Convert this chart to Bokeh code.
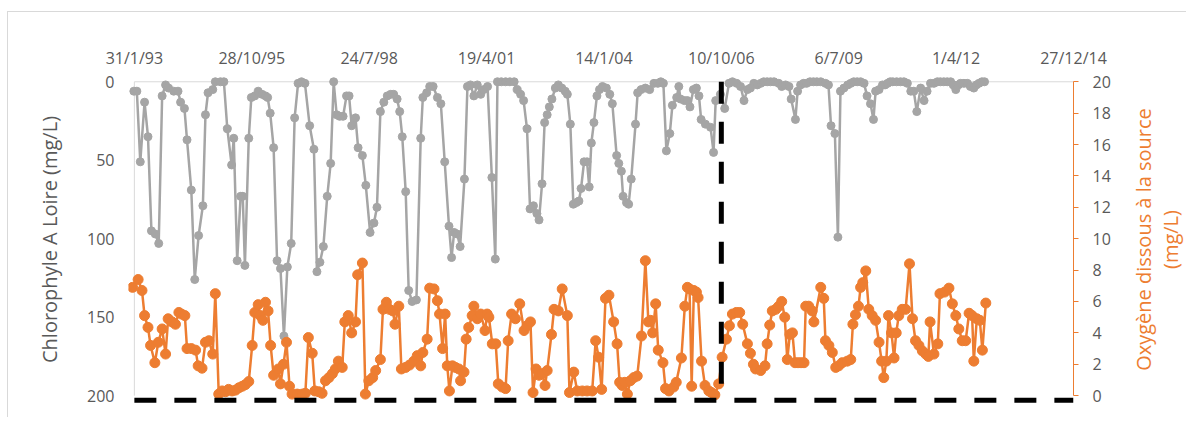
from datetime import datetime

from bokeh.embed import file_html
from bokeh.layouts import row
from bokeh.models import FixedTicker, LinearAxis, Range1d
from bokeh.plotting import figure
from bokeh.resources import INLINE

# ---------------- data ----------------
# top axis tick labels (dates, d/m/yy)
x_tick_labels = ["31/1/93", "28/10/95", "24/7/98", "19/4/01", "14/1/04",
                 "10/10/06", "6/7/09", "1/4/12", "27/12/14"]
chl_ticks = [0, 50, 100, 150, 200]
o2_ticks = [0, 2, 4, 6, 8, 10, 12, 14, 16, 18, 20]

# Chlorophyle A Loire (mg/L) : sampling time (decimal year) and value
chl_year = [
    1993.07, 1993.14, 1993.22, 1993.32, 1993.40, 1993.48, 1993.57, 1993.65, 1993.73, 1993.81,
    1993.88, 1994.00, 1994.10, 1994.16, 1994.25, 1994.31, 1994.41, 1994.49, 1994.58, 1994.68,
    1994.74, 1994.80, 1994.91, 1994.97, 1995.09, 1995.17, 1995.25, 1995.35, 1995.40, 1995.48,
    1995.56, 1995.61, 1995.66, 1995.75, 1995.81, 1995.89, 1995.97, 1996.06, 1996.14, 1996.19,
    1996.25, 1996.33, 1996.41, 1996.49, 1996.57, 1996.65, 1996.74, 1996.82, 1996.90, 1996.98,
    1997.06, 1997.17, 1997.27, 1997.34, 1997.41, 1997.49, 1997.58, 1997.66, 1997.73, 1997.80,
    1997.87, 1997.95, 1998.03, 1998.09, 1998.15, 1998.24, 1998.30, 1998.40, 1998.48, 1998.58,
    1998.67, 1998.74, 1998.82, 1998.90, 1998.98, 1999.06, 1999.13, 1999.21, 1999.27, 1999.33,
    1999.41, 1999.48, 1999.56, 1999.66, 1999.76, 1999.81, 1999.90, 1999.97, 2000.05, 2000.15,
    2000.23, 2000.32, 2000.42, 2000.48, 2000.54, 2000.61, 2000.68, 2000.78, 2000.85, 2000.92,
    2001.00, 2001.08, 2001.16, 2001.23, 2001.32, 2001.42, 2001.50, 2001.55, 2001.64, 2001.74,
    2001.84, 2001.94, 2002.01, 2002.09, 2002.16, 2002.24, 2002.31, 2002.39, 2002.47, 2002.52,
    2002.59, 2002.65, 2002.71, 2002.76, 2002.82, 2002.90, 2002.97, 2003.05, 2003.13, 2003.18,
    2003.25, 2003.32, 2003.39, 2003.45, 2003.50, 2003.57, 2003.64, 2003.69, 2003.74, 2003.80,
    2003.87, 2003.93, 2004.00, 2004.09, 2004.17, 2004.23, 2004.33, 2004.38, 2004.44, 2004.48,
    2004.56, 2004.61, 2004.67, 2004.77, 2004.82, 2004.90, 2005.00, 2005.10, 2005.20, 2005.29,
    2005.36, 2005.42, 2005.49, 2005.57, 2005.63, 2005.73, 2005.78, 2005.82, 2005.91, 2005.98,
    2006.04, 2006.12, 2006.19, 2006.25, 2006.30, 2006.40, 2006.52, 2006.59, 2006.64, 2006.75,
    2006.85, 2006.95, 2007.03, 2007.13, 2007.22, 2007.30, 2007.38, 2007.45, 2007.53, 2007.61,
    2007.69, 2007.76, 2007.84, 2007.92, 2008.00, 2008.11, 2008.18, 2008.27, 2008.35, 2008.40,
    2008.50, 2008.55, 2008.62, 2008.69, 2008.76, 2008.84, 2008.92, 2009.00, 2009.09, 2009.20,
    2009.27, 2009.33, 2009.42, 2009.49, 2009.55, 2009.63, 2009.72, 2009.79, 2009.86, 2009.94,
    2010.02, 2010.10, 2010.17, 2010.25, 2010.32, 2010.37, 2010.45, 2010.53, 2010.59, 2010.65,
    2010.71, 2010.77, 2010.86, 2010.95, 2011.03, 2011.11, 2011.19, 2011.26, 2011.33, 2011.42,
    2011.50, 2011.57, 2011.65, 2011.73, 2011.81, 2011.88, 2011.96, 2012.04, 2012.12, 2012.18,
    2012.24, 2012.30, 2012.35, 2012.43, 2012.51, 2012.58, 2012.66, 2012.72, 2012.78, 2012.85,
    2012.91,
]
chl_value = [
    6, 6, 51, 13, 35, 95, 97, 103, 9, 2,
    4, 6, 6, 13, 17, 37, 69, 126, 98, 79,
    21, 7, 5, 0, 0, 0, 30, 53, 36, 114,
    73, 73, 117, 36, 10, 9, 6, 8, 9, 10,
    20, 42, 114, 119, 162, 118, 103, 23, 1, 0,
    1, 28, 43, 121, 115, 105, 73, 52, 0, 21,
    22, 22, 9, 9, 28, 23, 42, 47, 66, 96,
    90, 80, 19, 13, 9, 8, 8, 11, 19, 35,
    70, 133, 140, 139, 36, 10, 7, 3, 3, 10,
    14, 51, 92, 112, 96, 97, 105, 62, 3, 2,
    9, 2, 8, 5, 3, 61, 113, 0, 0, 0,
    0, 0, 5, 8, 12, 30, 81, 79, 84, 88,
    65, 26, 21, 16, 11, 4, 2, 4, 6, 8,
    27, 78, 77, 76, 68, 51, 51, 67, 39, 26,
    9, 5, 3, 4, 8, 14, 47, 52, 57, 73,
    77, 78, 62, 27, 7, 5, 4, 5, 1, 1,
    0, 1, 44, 33, 15, 10, 3, 11, 12, 12,
    16, 5, 4, 9, 24, 27, 29, 45, 12, 8,
    17, 1, 0, 1, 3, 12, 5, 4, 1, 2,
    1, 0, 0, 0, 0, 1, 3, 2, 3, 11,
    24, 6, 2, 1, 1, 0, 0, 0, 0, 1,
    2, 28, 33, 99, 6, 4, 2, 1, 0, 0,
    0, 1, 9, 14, 24, 6, 5, 2, 2, 1,
    0, 0, 0, 0, 0, 1, 6, 6, 19, 4,
    12, 6, 1, 1, 0, 0, 0, 0, 0, 2,
    5, 2, 1, 1, 1, 3, 4, 2, 1, 0,
    0,
]

# Oxygene dissous a la source (mg/L)
o2_year = [
    1993.04, 1993.17, 1993.26, 1993.32, 1993.40, 1993.46, 1993.56, 1993.64, 1993.73, 1993.81,
    1993.87, 1993.96, 1994.04, 1994.12, 1994.18, 1994.26, 1994.31, 1994.41, 1994.51, 1994.57,
    1994.66, 1994.74, 1994.82, 1994.91, 1994.97, 1995.05, 1995.13, 1995.21, 1995.28, 1995.36,
    1995.44, 1995.52, 1995.60, 1995.67, 1995.75, 1995.83, 1995.89, 1995.97, 1996.02, 1996.08,
    1996.14, 1996.20, 1996.26, 1996.33, 1996.44, 1996.49, 1996.56, 1996.63, 1996.70, 1996.76,
    1996.88, 1997.00, 1997.07, 1997.14, 1997.23, 1997.29, 1997.38, 1997.46, 1997.54, 1997.62,
    1997.70, 1997.77, 1997.84, 1997.93, 1997.99, 1998.07, 1998.15, 1998.24, 1998.29, 1998.40,
    1998.47, 1998.55, 1998.64, 1998.71, 1998.82, 1998.88, 1998.96, 1999.03, 1999.11, 1999.16,
    1999.25, 1999.31, 1999.41, 1999.50, 1999.60, 1999.68, 1999.76, 1999.81, 1999.91, 1999.97,
    2000.07, 2000.15, 2000.20, 2000.27, 2000.33, 2000.38, 2000.43, 2000.50, 2000.57, 2000.65,
    2000.69, 2000.77, 2000.82, 2000.88, 2000.96, 2001.00, 2001.08, 2001.16, 2001.26, 2001.31,
    2001.35, 2001.43, 2001.51, 2001.57, 2001.66, 2001.74, 2001.80, 2001.88, 2001.97, 2002.07,
    2002.17, 2002.24, 2002.32, 2002.38, 2002.45, 2002.52, 2002.59, 2002.66, 2002.71, 2002.81,
    2002.87, 2002.97, 2003.06, 2003.18, 2003.23, 2003.33, 2003.41, 2003.53, 2003.64, 2003.76,
    2003.84, 2003.91, 2003.98, 2004.07, 2004.15, 2004.26, 2004.34, 2004.40, 2004.46, 2004.52,
    2004.58, 2004.65, 2004.73, 2004.81, 2004.91, 2005.00, 2005.07, 2005.12, 2005.17, 2005.24,
    2005.30, 2005.41, 2005.47, 2005.55, 2005.66, 2005.72, 2005.84, 2005.92, 2005.98, 2006.03,
    2006.08, 2006.13, 2006.19, 2006.23, 2006.31, 2006.39, 2006.48, 2006.54, 2006.62, 2006.71,
    2006.79, 2006.89, 2006.96, 2007.03, 2007.12, 2007.20, 2007.27, 2007.38, 2007.45, 2007.52,
    2007.57, 2007.69, 2007.79, 2007.84, 2007.90, 2007.96, 2008.04, 2008.11, 2008.18, 2008.25,
    2008.31, 2008.37, 2008.43, 2008.49, 2008.56, 2008.63, 2008.70, 2008.74, 2008.81, 2008.89,
    2008.93, 2009.09, 2009.16, 2009.20, 2009.28, 2009.36, 2009.44, 2009.51, 2009.59, 2009.71,
    2009.79, 2009.84, 2009.90, 2009.97, 2010.02, 2010.07, 2010.14, 2010.21, 2010.29, 2010.37,
    2010.45, 2010.51, 2010.56, 2010.62, 2010.67, 2010.74, 2010.80, 2010.85, 2010.91, 2010.99,
    2011.07, 2011.16, 2011.23, 2011.30, 2011.38, 2011.46, 2011.54, 2011.60, 2011.64, 2011.73,
    2011.82, 2011.87, 2011.98, 2012.08, 2012.16, 2012.24, 2012.31, 2012.39, 2012.47, 2012.55,
    2012.62, 2012.66, 2012.73, 2012.80, 2012.86, 2012.94,
]
o2_value = [
    6.9, 7.4, 6.7, 5.1, 4.35, 3.2, 2.1, 3.4, 4.25, 2.65,
    4.9, 4.7, 4.55, 5.3, 5.2, 5.1, 3.0, 3.0, 2.9, 1.9,
    1.75, 3.4, 3.5, 2.65, 6.5, 0.1, 0.3, 0.25, 0.4, 0.3,
    0.35, 0.5, 0.6, 0.7, 0.9, 3.2, 5.3, 5.8, 5.1, 4.8,
    5.95, 5.4, 3.2, 1.3, 1.7, 0.75, 2.0, 3.4, 0.6, 0.1,
    0.1, 0.1, 0.15, 3.7, 2.7, 0.3, 0.25, 0.15, 0.95, 1.15,
    1.4, 1.7, 2.2, 1.8, 4.7, 5.1, 4.0, 4.7, 7.7, 8.45,
    0.1, 0.95, 1.15, 1.6, 2.3, 5.5, 5.95, 5.5, 5.4, 4.55,
    5.7, 1.7, 1.8, 1.95, 2.2, 2.55, 1.9, 2.75, 3.6, 6.85,
    6.8, 6.05, 5.2, 3.0, 5.2, 1.9, 0.3, 1.9, 1.8, 1.7,
    0.95, 1.5, 3.6, 4.35, 5.1, 5.7, 4.9, 5.2, 4.15, 5.2,
    5.0, 3.3, 3.3, 0.75, 0.55, 0.45, 3.5, 5.2, 4.9, 5.85,
    4.15, 4.45, 4.7, 0.2, 1.7, 1.3, 1.4, 0.65, 1.6, 3.9,
    5.5, 5.4, 6.8, 5.1, 0.2, 1.5, 0.3, 0.3, 0.3, 0.3,
    3.5, 2.45, 0.4, 6.2, 6.4, 4.7, 3.3, 0.85, 0.65, 0.85,
    0.1, 0.95, 1.15, 1.25, 3.8, 8.6, 4.7, 4.8, 4.0, 5.85,
    2.9, 2.1, 0.45, 0.3, 0.55, 0.85, 2.4, 5.7, 6.9, 6.8,
    0.6, 6.7, 6.6, 6.25, 2.2, 0.65, 0.3, 0.2, 0.05, 0.75,
    2.45, 3.6, 4.45, 5.2, 5.3, 5.3, 4.55, 3.3, 2.7, 2.0,
    1.7, 1.6, 1.9, 3.3, 4.5, 5.4, 5.5, 5.7, 6.0, 5.0,
    2.3, 3.9, 4.0, 2.1, 2.1, 2.1, 2.1, 5.7, 5.7, 5.4,
    4.7, 6.9, 6.2, 3.5, 3.2, 2.75, 1.8, 1.9, 2.1, 2.2,
    2.3, 4.55, 5.15, 5.7, 6.9, 7.2, 7.95, 5.5, 5.1, 4.8,
    3.4, 2.2, 1.15, 2.2, 5.1, 4.0, 2.4, 4.0, 5.1, 5.5,
    5.5, 8.4, 4.9, 3.5, 3.2, 2.85, 2.65, 2.5, 4.7, 2.65,
    3.3, 6.5, 6.6, 6.85, 5.85, 5.1, 4.25, 3.5, 3.5, 5.25,
    5.1, 2.2, 4.9, 4.8, 2.9, 5.9,
]

# dashed reference lines: change date (10/10/06) and a baseline just under 0 mg/L
break_date_label = "10/10/06"
baseline_o2 = -0.3

chl_title = "Chlorophyle A Loire (mg/L)"
o2_title = "Oxygène dissous à la source\n(mg/L)"

# ---------------- helpers ----------------
EPOCH = datetime(1899, 12, 30)


def serial(d):
    return (d - EPOCH).days + (d - EPOCH).seconds / 86400.0


def years_to_serial(years):
    base = serial(datetime(1993, 1, 1))
    return [base + (y - 1993) * 365.25 for y in years]


tick_pos = [int(round(serial(datetime.strptime(s, "%d/%m/%y")))) for s in x_tick_labels]
break_x = serial(datetime.strptime(break_date_label, "%d/%m/%y"))
chl_x = years_to_serial(chl_year)
o2_x = years_to_serial(o2_year)

GREY = "#A5A5A5"
ORANGE = "#ED7D31"
TEXT = "#595959"
AXIS = "#D9D9D9"
FONT = "Open Sans"

x_axis_start, x_axis_end = tick_pos[0], tick_pos[-1]
x_pad = 50
TOTAL_H = 405
BORDER_TOP, BORDER_BOTTOM = 63, 14

p = figure(
    width=1105, height=TOTAL_H,
    x_range=Range1d(x_axis_start - x_pad, x_axis_end),
    y_range=Range1d(205, -4),
    x_axis_location="above",
    output_backend="svg", toolbar_location=None,
    min_border_left=120, min_border_right=40,
    min_border_top=BORDER_TOP, min_border_bottom=BORDER_BOTTOM,
    align="start",
)
p.extra_y_ranges = {"o2": Range1d(-0.5, 20.4)}
p.outline_line_color = None
p.xgrid.visible = False
p.ygrid.visible = False
p.background_fill_color = "white"
p.border_fill_color = "white"

# top (date) axis
xa = p.xaxis[0]
xa.ticker = FixedTicker(ticks=tick_pos)
xa.major_label_overrides = {t: s for t, s in zip(tick_pos, x_tick_labels)}
xa.axis_line_color = None
xa.major_tick_line_color = None
xa.minor_tick_line_color = None
xa.major_label_standoff = 1
xa.major_label_text_font = FONT
xa.major_label_text_font_size = "16px"
xa.major_label_text_color = TEXT

# left (chlorophyll) axis
ya = p.yaxis[0]
ya.ticker = FixedTicker(ticks=chl_ticks)
ya.bounds = (chl_ticks[0], chl_ticks[-1])
ya.axis_line_color = None
ya.major_tick_line_color = None
ya.minor_tick_line_color = None
ya.major_label_standoff = 8
ya.major_label_text_font = FONT
ya.major_label_text_font_size = "16px"
ya.major_label_text_color = TEXT
ya.axis_label = chl_title
ya.axis_label_text_font = FONT
ya.axis_label_text_font_size = "20px"
ya.axis_label_text_font_style = "normal"
ya.axis_label_text_color = TEXT
ya.axis_label_standoff = 21

# right (oxygen) axis: ticks and numbers
ra = LinearAxis(y_range_name="o2", ticker=FixedTicker(ticks=o2_ticks))
ra.bounds = (o2_ticks[0], o2_ticks[-1])
ra.axis_line_color = ORANGE
ra.axis_line_width = 1
ra.major_tick_line_color = ORANGE
ra.major_tick_out = 5
ra.major_tick_in = 0
ra.minor_tick_line_color = None
ra.major_label_standoff = 14
ra.major_label_text_font = FONT
ra.major_label_text_font_size = "16px"
ra.major_label_text_color = TEXT
p.add_layout(ra, "right")

# plot-area axis lines (chl = 0 line on top, left edge at first date tick)
p.line([x_axis_start, x_axis_end], [chl_ticks[0], chl_ticks[0]], line_color=AXIS, line_width=1)
p.line([x_axis_start, x_axis_start], [chl_ticks[0], chl_ticks[-1]], line_color=AXIS, line_width=1)

# chlorophyll series
p.line(chl_x, chl_value, line_color=GREY, line_width=2.5)
p.scatter(chl_x, chl_value, size=8, fill_color=GREY, line_color=GREY)

# oxygen series
p.line(o2_x, o2_value, line_color=ORANGE, line_width=2.5, y_range_name="o2")
p.scatter(o2_x, o2_value, size=10, fill_color=ORANGE, line_color=ORANGE, y_range_name="o2")

# dashed reference lines
p.line([x_axis_start, x_axis_end], [baseline_o2, baseline_o2], y_range_name="o2",
       line_color="black", line_width=5, line_dash="22 18")
p.line([break_x, break_x], [o2_ticks[-1], baseline_o2], y_range_name="o2",
       line_color="black", line_width=5, line_dash="22 18")

# narrow companion panel that carries the right-hand (oxygen) title, reading bottom-to-top
t = figure(
    width=73, height=TOTAL_H,
    x_range=Range1d(0, 1), y_range=Range1d(o2_ticks[0], o2_ticks[-1]),
    x_axis_location=None,
    output_backend="svg", toolbar_location=None,
    min_border_left=71, min_border_right=0,
    min_border_top=BORDER_TOP, min_border_bottom=BORDER_BOTTOM,
    align="start",
)
t.outline_line_color = None
t.xgrid.visible = False
t.ygrid.visible = False
t.border_fill_color = "white"
t.background_fill_color = "white"
ta = t.yaxis[0]
ta.ticker = FixedTicker(ticks=[])
ta.axis_line_color = None
ta.major_tick_line_color = None
ta.minor_tick_line_color = None
ta.major_tick_out = 0
ta.axis_label = o2_title
ta.axis_label_text_font = FONT
ta.axis_label_text_font_size = "20px"
ta.axis_label_text_font_style = "normal"
ta.axis_label_text_color = ORANGE
ta.axis_label_text_line_height = 1.0
ta.axis_label_standoff = 1

layout = row(p, t, spacing=0)
layout.styles = {"border-top": "1px solid #D9D9D9", "border-left": "1px solid #D9D9D9",
                 "margin-top": "11px", "margin-left": "7px"}

open("out.html", "w").write(file_html(layout, INLINE))
